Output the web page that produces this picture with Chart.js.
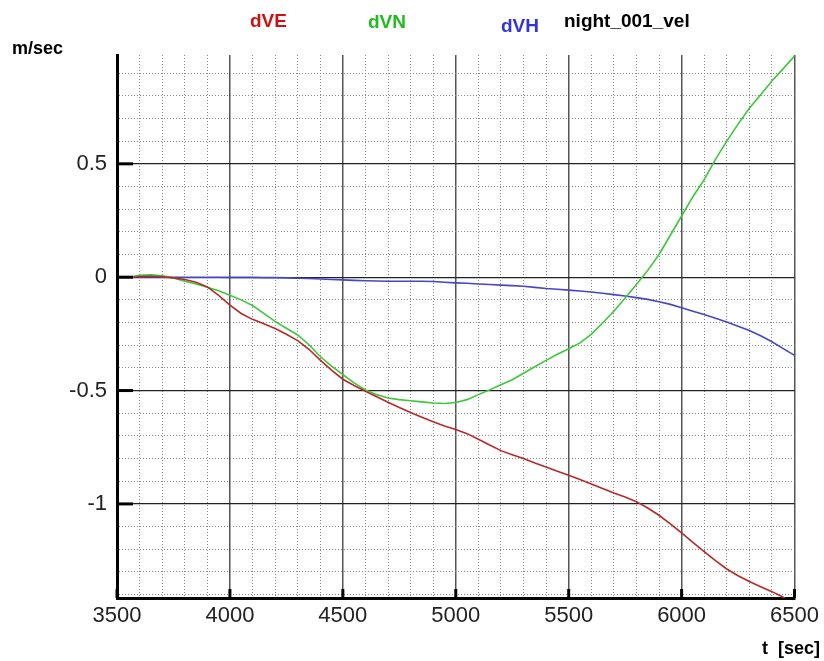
<!DOCTYPE html>
<html>
<head>
<meta charset="utf-8">
<script src="https://cdn.jsdelivr.net/npm/chart.js@4/dist/chart.umd.min.js"></script>
<style>
  body { margin: 0; background: #fff; }
  #wrap { width: 824px; height: 661px; }
</style>
</head>
<body>
<div id="wrap"><canvas id="velChart" width="824" height="661"></canvas></div>
<script>
// --- Data ---
const times = [3570, 3600, 3650, 3700, 3750, 3800, 3850, 3900, 3950, 4000,
               4050, 4100, 4150, 4200, 4250, 4300, 4350, 4400, 4450, 4500,
               4550, 4600, 4650, 4700, 4750, 4800, 4850, 4900, 4950, 5000,
               5050, 5100, 5150, 5200, 5250, 5300, 5350, 5400, 5450, 5500,
               5550, 5600, 5650, 5700, 5750, 5800, 5850, 5900, 5950, 6000,
               6050, 6100, 6150, 6200, 6250, 6300, 6350, 6400, 6450, 6500];

const dVE = [0.0, 0.003, 0.004, 0.002, -0.003, -0.01, -0.022, -0.043, -0.08, -0.123,
             -0.16, -0.186, -0.205, -0.226, -0.252, -0.28, -0.318, -0.366, -0.41, -0.45,
             -0.478, -0.503, -0.527, -0.552, -0.575, -0.597, -0.618, -0.638, -0.656, -0.672,
             -0.69, -0.715, -0.74, -0.765, -0.783, -0.8, -0.82, -0.837, -0.856, -0.874,
             -0.892, -0.912, -0.932, -0.952, -0.97, -0.99, -1.018, -1.05, -1.088, -1.128,
             -1.17, -1.21, -1.25, -1.287, -1.317, -1.342, -1.365, -1.387, -1.412, -1.44];

const dVN = [0.003, 0.008, 0.01, 0.006, -0.003, -0.018, -0.03, -0.044, -0.06, -0.08,
             -0.1, -0.125, -0.16, -0.195, -0.225, -0.255, -0.298, -0.35, -0.392, -0.43,
             -0.466, -0.497, -0.518, -0.533, -0.54, -0.545, -0.55, -0.555, -0.557, -0.553,
             -0.54, -0.518, -0.497, -0.474, -0.452, -0.424, -0.395, -0.367, -0.34, -0.316,
             -0.29, -0.252, -0.202, -0.15, -0.092, -0.032, 0.03, 0.1, 0.185, 0.27,
             0.355, 0.43, 0.52, 0.6, 0.675, 0.745, 0.805, 0.865, 0.92, 0.975];

const dVH = [0.0, 0.001, 0.001, 0.0, 0.0, 0.0, 0.0, 0.0, 0.0, -0.001,
             -0.001, -0.001, -0.002, -0.002, -0.003, -0.005, -0.006, -0.008, -0.01, -0.012,
             -0.014, -0.016, -0.017, -0.018, -0.018, -0.018, -0.018, -0.019, -0.022, -0.025,
             -0.027, -0.03, -0.032, -0.035, -0.037, -0.04, -0.045, -0.05, -0.053, -0.057,
             -0.061, -0.065, -0.071, -0.077, -0.083, -0.09, -0.098, -0.108, -0.12, -0.135,
             -0.15, -0.165, -0.181, -0.198, -0.216, -0.235, -0.258, -0.285, -0.315, -0.345];

const seriesNames = ['dVE', 'dVN', 'dVH'];
const seriesColors = ['#b52a2a', '#3cc83c', '#4646c8'];
const labelColors = ['#cc1111', '#22bb22', '#3333dd'];
const plotTitle = 'night_001_vel';
const yUnit = 'm/sec';
const xUnit = 't  [sec]';

const FONT = "'Liberation Sans', Arial, sans-serif";

function isMajor(v, step) {
    const r = v / step;
    return Math.abs(r - Math.round(r)) < 1e-6;
}

function toPoints(values) {
    return values.map((v, i) => ({ x: times[i], y: v }));
}

// --- Extra text and inner tick marks ---
const decorations = {
    id: 'decorations',
    afterDatasetsDraw(chart) {
        const ctx = chart.ctx;
        const xs = chart.scales.x, ys = chart.scales.y;
        const area = chart.chartArea;
        ctx.save();
        ctx.strokeStyle = '#000';
        ctx.lineWidth = 3;
        xs.ticks.forEach(t => {
            if (!isMajor(t.value, 500)) return;
            const px = xs.getPixelForValue(t.value);
            ctx.beginPath();
            ctx.moveTo(px, area.bottom);
            ctx.lineTo(px, area.bottom - 9);
            ctx.stroke();
        });
        ys.ticks.forEach(t => {
            if (!isMajor(t.value, 0.5)) return;
            const py = ys.getPixelForValue(t.value);
            ctx.beginPath();
            ctx.moveTo(area.left, py);
            ctx.lineTo(area.left + 16, py);
            ctx.stroke();
        });
        ctx.restore();
    },
    afterDraw(chart) {
        const ctx = chart.ctx;
        ctx.save();
        ctx.font = 'bold 19px ' + FONT;
        ctx.textBaseline = 'alphabetic';
        const spots = [[250, 27], [368, 28], [501, 32]];
        seriesNames.forEach((n, i) => {
            ctx.fillStyle = labelColors[i];
            ctx.fillText(n, spots[i][0], spots[i][1]);
        });
        ctx.fillStyle = '#000';
        ctx.fillText(plotTitle, 564, 27);
        ctx.font = 'bold 18px ' + FONT;
        ctx.fillText(yUnit, 12, 54);
        ctx.fillText(xUnit, 762, 654);
        ctx.restore();
    }
};

const gridMajorColor = '#555';
const gridMinorColor = '#888';

new Chart(document.getElementById('velChart').getContext('2d'), {
    type: 'line',
    data: {
        datasets: [dVE, dVN, dVH].map((vals, i) => ({
            label: seriesNames[i],
            data: toPoints(vals),
            borderColor: seriesColors[i],
            borderWidth: 1.6,
            pointRadius: 0,
            tension: 0,
            fill: false
        }))
    },
    options: {
        responsive: false,
        animation: false,
        layout: { padding: { top: 55, right: 29, left: 0, bottom: 0 } },
        plugins: {
            legend: { display: false },
            tooltip: { enabled: false }
        },
        scales: {
            x: {
                type: 'linear',
                min: 3500,
                max: 6500,
                afterFit: s => { s.height = 63; },
                ticks: {
                    stepSize: 100,
                    autoSkip: false,
                    maxRotation: 0,
                    minRotation: 0,
                    padding: 5,
                    color: '#222',
                    font: { family: FONT, size: 22 },
                    callback: v => isMajor(v, 500) ? String(v) : ''
                },
                grid: {
                    drawTicks: false,
                    color: c => (c.tick && isMajor(c.tick.value, 500)) ? gridMajorColor : gridMinorColor,
                    lineWidth: c => (c.tick && isMajor(c.tick.value, 500)) ? 1.5 : 1
                },
                border: {
                    color: '#000',
                    width: 3,
                    dash: c => (c.tick && !isMajor(c.tick.value, 500)) ? [1, 2] : []
                }
            },
            y: {
                min: -1.415,
                max: 0.98,
                afterFit: s => { s.width = 117; },
                ticks: {
                    stepSize: 0.1,
                    includeBounds: false,
                    autoSkip: false,
                    padding: 10,
                    color: '#222',
                    font: { family: FONT, size: 22 },
                    callback: v => isMajor(v, 0.5) ? String(Math.round(v * 10) / 10) : ''
                },
                grid: {
                    drawTicks: false,
                    color: c => (c.tick && isMajor(c.tick.value, 0.5)) ? '#222' : gridMinorColor,
                    lineWidth: c => (c.tick && isMajor(c.tick.value, 0.5)) ? 1.2 : 1
                },
                border: {
                    color: '#000',
                    width: 3,
                    dash: c => (c.tick && !isMajor(c.tick.value, 0.5)) ? [1, 2] : []
                }
            }
        }
    },
    plugins: [decorations]
});
</script>
</body>
</html>
